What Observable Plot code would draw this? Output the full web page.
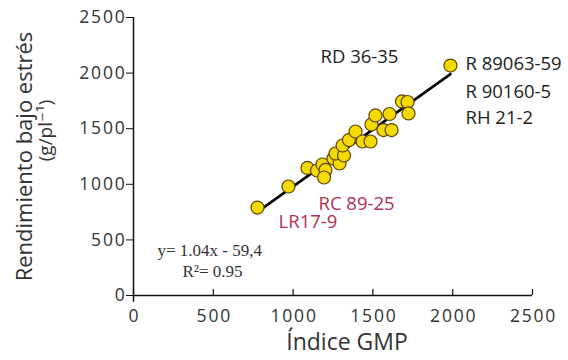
<!DOCTYPE html>
<html>
<head>
<meta charset="utf-8">
<script src="https://cdn.jsdelivr.net/npm/d3@7"></script>
<script src="https://cdn.jsdelivr.net/npm/@observablehq/plot@0.6"></script>
<style>
  html, body { margin: 0; padding: 0; background: #fff; }
  #chart svg { display: block; }
</style>
</head>
<body>
<div id="chart"></div>
<script>
// GMP index (x) and yield under stress (y)
const gmp =          [777, 971, 1090, 1150, 1184, 1203, 1194, 1253, 1291, 1266, 1319, 1310, 1350, 1391, 1435, 1485, 1491, 1516, 1566, 1604, 1617, 1682, 1717, 1723, 1986];
const yieldStress =  [791, 980, 1147, 1124, 1178, 1129, 1061, 1232, 1187, 1277, 1259, 1349, 1398, 1475, 1385, 1385, 1538, 1619, 1488, 1632, 1488, 1745, 1740, 1637, 2068];

const xTicks = [0, 500, 1000, 1500, 2000, 2500];
const yTicks = [0, 500, 1000, 1500, 2000, 2500];

// genotype labels (black)
const blackLabels = ["RD 36-35", "R 89063-59", "R 90160-5", "RH 21-2"];
const blackLabelX = [1416, 2080, 2080, 2080];
const blackLabelY = [2140, 2077, 1826, 1592];
const blackLabelAnchor = ["middle", "start", "start", "start"];

// genotype labels (red)
const redLabels = ["RC 89-25", "LR17-9"];
const redLabelX = [1159, 909];
const redLabelY = [822, 660];

// regression equation
const eqLabels = ["y= 1.04x - 59,4", "R²= 0.95"];
const eqX = [150, 307];
const eqY = [405, 216];

const points = gmp.map((x, i) => ({x, y: yieldStress[i]}));
const black = blackLabels.map((t, i) => ({t, x: blackLabelX[i], y: blackLabelY[i], a: blackLabelAnchor[i]}));
const red = redLabels.map((t, i) => ({t, x: redLabelX[i], y: redLabelY[i]}));
const eq = eqLabels.map((t, i) => ({t, x: eqX[i], y: eqY[i]}));

const font = "'Open Sans', 'DejaVu Sans', sans-serif";
const labelSize = 18.5;

const chart = Plot.plot({
  width: 568,
  height: 360,
  marginLeft: 133,
  marginRight: 36,
  marginTop: 17,
  marginBottom: 65,
  style: {fontFamily: font, background: "#fff", color: "#222"},
  x: {domain: [0, 2500]},
  y: {domain: [0, 2500]},
  marks: [
    // axes lines
    Plot.ruleY([0], {x1: 0, x2: 2500, stroke: "#111", strokeWidth: 1.5}),
    Plot.ruleX([0], {y1: -60, y2: 2500, stroke: "#111", strokeWidth: 1.5}),
    // inward x ticks
    Plot.ruleX(xTicks, {x: d => d, y1: 0, y2: 55, stroke: "#111", strokeWidth: 1.2}),
    Plot.axisX({ticks: xTicks, tickSize: 0, tickPadding: 14, fontSize: 17.5, label: null, tickFormat: d => String(d), fill: "#333", dx: 1}),
    Plot.axisY({ticks: yTicks, tickSize: 7, tickPadding: 0, fontSize: 17.5, label: null, tickFormat: d => String(d), stroke: "#111", fill: "#333"}),
    // axis titles
    Plot.text(["Índice GMP"], {frameAnchor: "bottom", textAnchor: "middle", dx: 14, dy: 54, fontSize: 23, fill: "#333"}),
    Plot.text(["Rendimiento bajo estrés"], {frameAnchor: "left", textAnchor: "middle", rotate: -90, dx: -109, fontSize: 22, fill: "#333"}),
    Plot.text(["(g/pl⁻¹)"], {frameAnchor: "left", textAnchor: "middle", rotate: -90, dx: -88, dy: -26, fontSize: 19, fill: "#333"}),
    // regression line and points
    Plot.linearRegressionY(points, {x: "x", y: "y", ci: 0, stroke: "#000", strokeWidth: 2.6}),
    Plot.dot(points, {x: "x", y: "y", r: 6.5, fill: "#f4da00", stroke: "#5e4400", strokeWidth: 1.2}),
    // labels
    Plot.text(black.filter(d => d.a === "start"), {ariaLabel: "glabels", x: "x", y: "y", text: "t", textAnchor: "start", fontSize: labelSize, fill: "#222"}),
    Plot.text(black.filter(d => d.a === "middle"), {ariaLabel: "glabels", x: "x", y: "y", text: "t", textAnchor: "middle", fontSize: labelSize, fill: "#222"}),
    Plot.text(red, {ariaLabel: "glabels", x: "x", y: "y", text: "t", textAnchor: "start", fontSize: labelSize, fill: "#b1304f"}),
    Plot.text(eq, {ariaLabel: "equation", x: "x", y: "y", text: "t", textAnchor: "start", fontSize: 17, fill: "#333", fontFamily: "'Liberation Serif', serif"})
  ]
});
document.getElementById("chart").appendChild(chart);

// widen letter spacing to match the reference's typeface
d3.select(chart).selectAll("g[aria-label]").each(function() {
  const a = this.getAttribute("aria-label") || "";
  let s = null;
  if (/^[xy]-axis/.test(a)) s = "1.8px";
  else if (a === "glabels") s = "1.2px";
  else if (a === "equation") s = "1px";
  if (s) d3.select(this).selectAll("text").attr("letter-spacing", s);
});
</script>
</body>
</html>
